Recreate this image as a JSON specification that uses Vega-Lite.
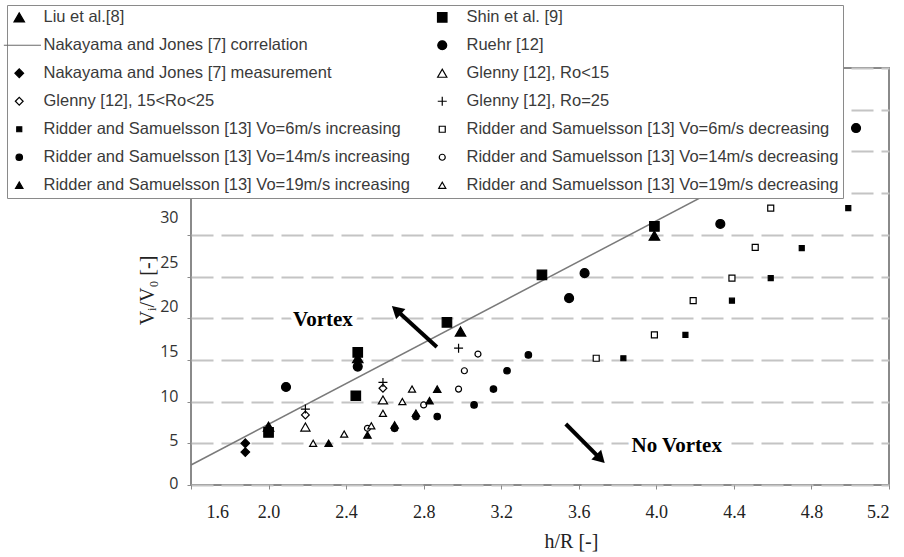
{
  "$schema": "https://vega.github.io/schema/vega-lite/v6.json",
  "autosize": {"type": "none"},
  "padding": {"left": 191, "top": 68, "right": 15, "bottom": 72},
  "width": 698,
  "height": 417,
  "background": "white",
  "config": {
    "view": {"stroke": "#8a8a8a", "strokeWidth": 2},
    "axis": {"domain": false, "tickColor": "#8a8a8a", "tickSize": 4},
    "legend": {
      "title": null,
      "orient": "none",
      "legendX": -184,
      "legendY": -63,
      "columns": 2,
      "direction": "horizontal",
      "fillColor": "white",
      "strokeColor": "#8a8a8a",
      "padding": 4,
      "rowPadding": 11,
      "columnPadding": 24,
      "labelFont": "Liberation Sans",
      "labelFontSize": 16.5,
      "labelColor": "#3a3a3a",
      "labelLimit": 600,
      "labelOffset": 16,
      "symbolStrokeWidth": 1.2,
      "symbolOpacity": 1
    }
  },
  "datasets": {
    "pts": [
      {"x": 2.0, "y": 7.0, "series": "Liu et al.[8]"},
      {"x": 2.46, "y": 15.2, "series": "Liu et al.[8]"},
      {"x": 2.99, "y": 18.4, "series": "Liu et al.[8]"},
      {"x": 3.99, "y": 29.9, "series": "Liu et al.[8]"},
      {"x": 2.0, "y": 6.3, "series": "Shin et al. [9]"},
      {"x": 2.46, "y": 15.9, "series": "Shin et al. [9]"},
      {"x": 2.45, "y": 10.7, "series": "Shin et al. [9]"},
      {"x": 2.92, "y": 19.5, "series": "Shin et al. [9]"},
      {"x": 3.41, "y": 25.2, "series": "Shin et al. [9]"},
      {"x": 3.99, "y": 31.0, "series": "Shin et al. [9]"},
      {"x": 2.09, "y": 11.75, "series": "Ruehr [12]"},
      {"x": 2.46, "y": 14.2, "series": "Ruehr [12]"},
      {"x": 3.55, "y": 22.4, "series": "Ruehr [12]"},
      {"x": 3.63, "y": 25.4, "series": "Ruehr [12]"},
      {"x": 4.33, "y": 31.3, "series": "Ruehr [12]"},
      {"x": 5.03, "y": 42.8, "series": "Ruehr [12]"},
      {"x": 1.88, "y": 5.0, "series": "Nakayama and Jones [7] measurement"},
      {"x": 1.88, "y": 3.95, "series": "Nakayama and Jones [7] measurement"},
      {"x": 2.19, "y": 6.95, "series": "Glenny [12], Ro<15"},
      {"x": 2.59, "y": 10.2, "series": "Glenny [12], Ro<15"},
      {"x": 2.19, "y": 8.4, "series": "Glenny [12], 15<Ro<25"},
      {"x": 2.59, "y": 11.6, "series": "Glenny [12], 15<Ro<25"},
      {"x": 2.19, "y": 9.1, "series": "Glenny [12], Ro=25"},
      {"x": 2.59, "y": 12.3, "series": "Glenny [12], Ro=25"},
      {"x": 2.98, "y": 16.4, "series": "Glenny [12], Ro=25"},
      {"x": 3.83, "y": 15.2, "series": "Ridder and Samuelsson [13] Vo=6m/s increasing"},
      {"x": 4.15, "y": 18.0, "series": "Ridder and Samuelsson [13] Vo=6m/s increasing"},
      {"x": 4.39, "y": 22.1, "series": "Ridder and Samuelsson [13] Vo=6m/s increasing"},
      {"x": 4.59, "y": 24.8, "series": "Ridder and Samuelsson [13] Vo=6m/s increasing"},
      {"x": 4.75, "y": 28.4, "series": "Ridder and Samuelsson [13] Vo=6m/s increasing"},
      {"x": 4.99, "y": 33.2, "series": "Ridder and Samuelsson [13] Vo=6m/s increasing"},
      {"x": 3.69, "y": 15.2, "series": "Ridder and Samuelsson [13] Vo=6m/s decreasing"},
      {"x": 3.99, "y": 18.0, "series": "Ridder and Samuelsson [13] Vo=6m/s decreasing"},
      {"x": 4.19, "y": 22.1, "series": "Ridder and Samuelsson [13] Vo=6m/s decreasing"},
      {"x": 4.39, "y": 24.8, "series": "Ridder and Samuelsson [13] Vo=6m/s decreasing"},
      {"x": 4.51, "y": 28.5, "series": "Ridder and Samuelsson [13] Vo=6m/s decreasing"},
      {"x": 4.59, "y": 33.2, "series": "Ridder and Samuelsson [13] Vo=6m/s decreasing"},
      {"x": 2.65, "y": 6.8, "series": "Ridder and Samuelsson [13] Vo=14m/s increasing"},
      {"x": 2.76, "y": 8.2, "series": "Ridder and Samuelsson [13] Vo=14m/s increasing"},
      {"x": 2.87, "y": 8.2, "series": "Ridder and Samuelsson [13] Vo=14m/s increasing"},
      {"x": 3.06, "y": 9.6, "series": "Ridder and Samuelsson [13] Vo=14m/s increasing"},
      {"x": 3.16, "y": 11.5, "series": "Ridder and Samuelsson [13] Vo=14m/s increasing"},
      {"x": 3.23, "y": 13.7, "series": "Ridder and Samuelsson [13] Vo=14m/s increasing"},
      {"x": 3.34, "y": 15.6, "series": "Ridder and Samuelsson [13] Vo=14m/s increasing"},
      {"x": 2.51, "y": 6.8, "series": "Ridder and Samuelsson [13] Vo=14m/s decreasing"},
      {"x": 2.80, "y": 9.6, "series": "Ridder and Samuelsson [13] Vo=14m/s decreasing"},
      {"x": 2.98, "y": 11.5, "series": "Ridder and Samuelsson [13] Vo=14m/s decreasing"},
      {"x": 3.01, "y": 13.7, "series": "Ridder and Samuelsson [13] Vo=14m/s decreasing"},
      {"x": 3.08, "y": 15.7, "series": "Ridder and Samuelsson [13] Vo=14m/s decreasing"},
      {"x": 2.31, "y": 5.0, "series": "Ridder and Samuelsson [13] Vo=19m/s increasing"},
      {"x": 2.51, "y": 6.0, "series": "Ridder and Samuelsson [13] Vo=19m/s increasing"},
      {"x": 2.65, "y": 7.2, "series": "Ridder and Samuelsson [13] Vo=19m/s increasing"},
      {"x": 2.76, "y": 8.6, "series": "Ridder and Samuelsson [13] Vo=19m/s increasing"},
      {"x": 2.83, "y": 10.1, "series": "Ridder and Samuelsson [13] Vo=19m/s increasing"},
      {"x": 2.87, "y": 11.5, "series": "Ridder and Samuelsson [13] Vo=19m/s increasing"},
      {"x": 2.23, "y": 5.0, "series": "Ridder and Samuelsson [13] Vo=19m/s decreasing"},
      {"x": 2.39, "y": 6.1, "series": "Ridder and Samuelsson [13] Vo=19m/s decreasing"},
      {"x": 2.53, "y": 7.1, "series": "Ridder and Samuelsson [13] Vo=19m/s decreasing"},
      {"x": 2.59, "y": 8.6, "series": "Ridder and Samuelsson [13] Vo=19m/s decreasing"},
      {"x": 2.69, "y": 10.0, "series": "Ridder and Samuelsson [13] Vo=19m/s decreasing"},
      {"x": 2.74, "y": 11.5, "series": "Ridder and Samuelsson [13] Vo=19m/s decreasing"}
    ],
    "corr": [
      {"x": 1.6, "y": 2.4},
      {"x": 4.6, "y": 39.0}
    ],
    "arrows": [
      {"x": 2.868, "y": 16.55, "hx": 2.659, "hy": 20.98, "angle": 312},
      {"x": 3.533, "y": 7.31, "hx": 3.712, "hy": 3.14, "angle": 135}
    ],
    "notes": [
      {"label": "Vortex", "x": 2.28, "y": 19.8},
      {"label": "No Vortex", "x": 4.105, "y": 4.68}
    ]
  },
  "layer": [
    {
      "data": {"name": "corr"},
      "mark": {"type": "line", "color": "#7a7a7a", "strokeWidth": 1.5},
      "encoding": {
        "x": {
          "field": "x", "type": "quantitative",
          "scale": {"domain": [1.6, 5.2], "nice": false, "zero": false},
          "axis": {
            "values": [1.6, 2.0, 2.4, 2.8, 3.2, 3.6, 4.0, 4.4, 4.8, 5.2],
            "format": ".1f",
            "grid": false,
            "labelFont": "Liberation Serif",
            "labelFontSize": 18,
            "labelColor": "#222222",
            "labelPadding": 14,
            "labelOffset": {"condition": {"test": "datum.value < 1.7", "value": 15}, "value": 0},
            "title": "h/R [-]",
            "titleFont": "Liberation Serif",
            "titleFontSize": 20,
            "titleFontWeight": "normal",
            "titleColor": "#222222",
            "titleX": 380,
            "titleY": 46,
            "titleBaseline": "top"
          }
        },
        "y": {
          "field": "y", "type": "quantitative",
          "scale": {"domain": [0, 50], "nice": false},
          "axis": {
            "values": [0, 5, 10, 15, 20, 25, 30, 35, 40, 45, 50],
            "labelExpr": "datum.value > 30 ? '' : datum.label",
            "grid": true,
            "gridDash": [22, 8],
            "gridColor": "#c4c4c4",
            "gridWidth": 2,
            "labelFont": "Open Sans",
            "labelFontSize": 16,
            "labelColor": "#333333",
            "labelPadding": 9,
            "labelOffset": {"condition": [
              {"test": "datum.value == 5", "value": -3},
              {"test": "datum.value == 10", "value": -5},
              {"test": "datum.value == 15", "value": -8},
              {"test": "datum.value == 20", "value": -12},
              {"test": "datum.value == 25", "value": -14},
              {"test": "datum.value == 30", "value": -17}
            ], "value": -2},
            "title": "Vᵢ/V₀ [-]",
            "titleFont": "Liberation Serif",
            "titleFontSize": 20,
            "titleFontWeight": "normal",
            "titleColor": "#222222",
            "titleX": -44,
            "titleY": 222,
            "titleBaseline": "middle",
            "titleAngle": 270
          }
        }
      }
    },
    {
      "data": {"name": "pts"},
      "mark": {"type": "point", "filled": true, "opacity": 1, "strokeWidth": 1.2},
      "encoding": {
        "x": {"field": "x", "type": "quantitative"},
        "y": {"field": "y", "type": "quantitative"},
        "shape": {
          "field": "series", "type": "ordinal",
          "scale": {
            "type": "ordinal",
            "domain": ["Liu et al.[8]", "Shin et al. [9]", "Nakayama and Jones [7] correlation", "Ruehr [12]", "Nakayama and Jones [7] measurement", "Glenny [12], Ro<15", "Glenny [12], 15<Ro<25", "Glenny [12], Ro=25", "Ridder and Samuelsson [13] Vo=6m/s increasing", "Ridder and Samuelsson [13] Vo=6m/s decreasing", "Ridder and Samuelsson [13] Vo=14m/s increasing", "Ridder and Samuelsson [13] Vo=14m/s decreasing", "Ridder and Samuelsson [13] Vo=19m/s increasing", "Ridder and Samuelsson [13] Vo=19m/s decreasing"],
            "range": ["triangle-up", "square", "M-2.2,0H3.1", "circle", "diamond", "triangle-up", "diamond", "M-1,0H1M0,-1V1", "square", "square", "circle", "circle", "triangle-up", "triangle-up"]
          }
        },
        "fill": {
          "field": "series", "type": "ordinal",
          "scale": {
            "type": "ordinal",
            "domain": ["Liu et al.[8]", "Shin et al. [9]", "Nakayama and Jones [7] correlation", "Ruehr [12]", "Nakayama and Jones [7] measurement", "Glenny [12], Ro<15", "Glenny [12], 15<Ro<25", "Glenny [12], Ro=25", "Ridder and Samuelsson [13] Vo=6m/s increasing", "Ridder and Samuelsson [13] Vo=6m/s decreasing", "Ridder and Samuelsson [13] Vo=14m/s increasing", "Ridder and Samuelsson [13] Vo=14m/s decreasing", "Ridder and Samuelsson [13] Vo=19m/s increasing", "Ridder and Samuelsson [13] Vo=19m/s decreasing"],
            "range": ["black", "black", "transparent", "black", "black", "white", "white", "transparent", "black", "white", "black", "white", "black", "white"]
          }
        },
        "stroke": {
          "field": "series", "type": "ordinal",
          "scale": {
            "type": "ordinal",
            "domain": ["Liu et al.[8]", "Shin et al. [9]", "Nakayama and Jones [7] correlation", "Ruehr [12]", "Nakayama and Jones [7] measurement", "Glenny [12], Ro<15", "Glenny [12], 15<Ro<25", "Glenny [12], Ro=25", "Ridder and Samuelsson [13] Vo=6m/s increasing", "Ridder and Samuelsson [13] Vo=6m/s decreasing", "Ridder and Samuelsson [13] Vo=14m/s increasing", "Ridder and Samuelsson [13] Vo=14m/s decreasing", "Ridder and Samuelsson [13] Vo=19m/s increasing", "Ridder and Samuelsson [13] Vo=19m/s decreasing"],
            "range": ["black", "black", "#6a6a6a", "black", "black", "black", "black", "black", "black", "black", "black", "black", "black", "black"]
          }
        },
        "size": {
          "field": "series", "type": "ordinal",
          "scale": {
            "type": "ordinal",
            "domain": ["Liu et al.[8]", "Shin et al. [9]", "Nakayama and Jones [7] correlation", "Ruehr [12]", "Nakayama and Jones [7] measurement", "Glenny [12], Ro<15", "Glenny [12], 15<Ro<25", "Glenny [12], Ro=25", "Ridder and Samuelsson [13] Vo=6m/s increasing", "Ridder and Samuelsson [13] Vo=6m/s decreasing", "Ridder and Samuelsson [13] Vo=14m/s increasing", "Ridder and Samuelsson [13] Vo=14m/s decreasing", "Ridder and Samuelsson [13] Vo=19m/s increasing", "Ridder and Samuelsson [13] Vo=19m/s decreasing"],
            "range": [110, 90, 196, 80, 75, 85, 60, 81, 25, 36, 42, 36, 55, 50]
          }
        }
      }
    },
    {
      "data": {"name": "arrows"},
      "mark": {"type": "rule", "color": "black", "strokeWidth": 4},
      "encoding": {
        "x": {"field": "x", "type": "quantitative"},
        "y": {"field": "y", "type": "quantitative"},
        "x2": {"field": "hx"},
        "y2": {"field": "hy"}
      }
    },
    {
      "data": {"name": "arrows"},
      "mark": {"type": "point", "shape": "triangle-up", "filled": true, "color": "black", "opacity": 1, "size": 190},
      "encoding": {
        "x": {"field": "hx", "type": "quantitative"},
        "y": {"field": "hy", "type": "quantitative"},
        "angle": {"field": "angle", "type": "quantitative", "scale": null}
      }
    },
    {
      "data": {"name": "notes"},
      "mark": {"type": "text", "font": "Liberation Serif", "fontWeight": "bold", "fontSize": 21, "color": "white", "stroke": "white", "strokeWidth": 10, "strokeJoin": "round"},
      "encoding": {
        "x": {"field": "x", "type": "quantitative"},
        "y": {"field": "y", "type": "quantitative"},
        "text": {"field": "label"}
      }
    },
    {
      "data": {"name": "notes"},
      "mark": {"type": "text", "font": "Liberation Serif", "fontWeight": "bold", "fontSize": 21, "color": "black"},
      "encoding": {
        "x": {"field": "x", "type": "quantitative"},
        "y": {"field": "y", "type": "quantitative"},
        "text": {"field": "label"}
      }
    }
  ]
}
